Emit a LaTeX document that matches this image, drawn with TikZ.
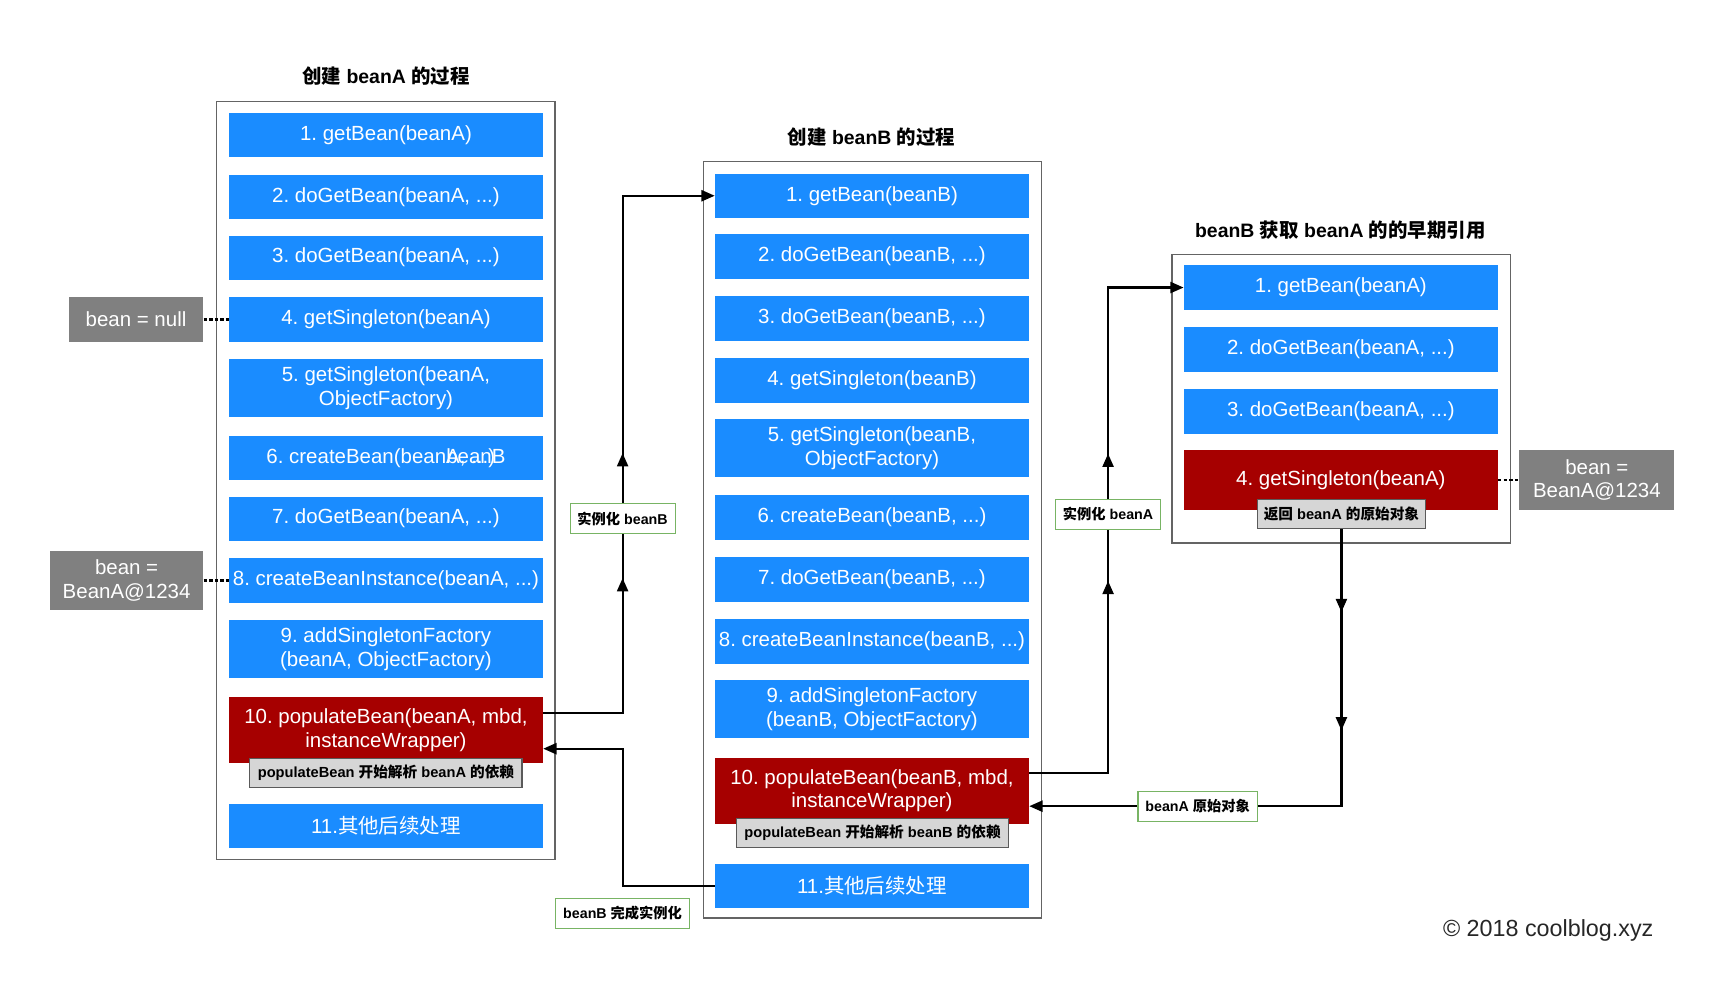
\documentclass[tikz,border=0pt]{standalone}
\usepackage{fontspec}
\setmainfont{Liberation Sans}
\newfontfamily\zhfont{Noto Sans CJK SC}
\newcommand{\zh}[1]{{\zhfont #1}}
\usetikzlibrary{arrows.meta,decorations.markings}
\frenchspacing

\definecolor{beanblue}{RGB}{26,140,255}
\definecolor{beanred}{RGB}{166,0,0}
\definecolor{valgray}{RGB}{128,128,128}
\definecolor{notegray}{RGB}{214,214,214}
\definecolor{noteedge}{RGB}{90,90,90}
\definecolor{taggreen}{RGB}{120,180,100}
\definecolor{framegray}{RGB}{100,100,100}

\begin{document}
\begin{tikzpicture}[x=0.3mm, y=-0.3mm,
  stepbox/.style={fill=beanblue, text=white, minimum width=85.2mm, minimum height=12mm, inner sep=0pt, align=center, font=\fontsize{15.8}{18.3}\selectfont},
  tallbox/.style={stepbox, minimum height=15.9mm},
  hotbox/.style={stepbox, fill=beanred, minimum height=18mm},
  valbox/.style={fill=valgray, text=white, inner sep=0pt, align=center, font=\fontsize{15.8}{18.3}\selectfont},
  notebox/.style={draw=noteedge, fill=notegray, line width=0.3mm, minimum width=73.8mm, minimum height=7.8mm, inner sep=0pt, font=\fontsize{11.3}{13}\selectfont\bfseries},
  tagbox/.style={draw=taggreen, fill=white, line width=0.3mm, minimum height=8.1mm, inner xsep=2mm, inner ysep=0pt, font=\fontsize{11}{13}\selectfont\bfseries},
  headline/.style={font=\fontsize{15}{18}\selectfont\bfseries},
  framebox/.style={draw=framegray, line width=0.4mm},
  flow/.style={line width=0.6mm, -{Triangle[length=3.6mm,width=3mm]}},
  tipat/.style={postaction={decorate, decoration={markings, mark=at position #1 with {\arrow{Triangle[length=3.6mm,width=3mm]}}}}},
  dotlink/.style={line width=0.6mm, dash pattern=on 0.9mm off 0.6mm},
]
\useasboundingbox (0,0) rectangle (1568,897);

% Creating beanA
\node[headline] (ta) at (349,69) {\zh{创建} beanA \zh{的过程}};
\draw[framebox] (196,92) rectangle (502,777);
\node[stepbox] (a1) at (349,122) {1. getBean(beanA)};
\node[stepbox] (a2) at (349,178) {2. doGetBean(beanA, ...)};
\node[stepbox] (a3) at (349,233) {3. doGetBean(beanA, ...)};
\node[stepbox] (a4) at (349,289) {4. getSingleton(beanA)};
\node[tallbox] (a5) at (349,351) {5. getSingleton(beanA,\\ObjectFactory)};
\node[stepbox] (a6) at (349,414) {6. createBean(bean\rlap{A, ...)}beanB};
\node[stepbox] (a7) at (349,469) {7. doGetBean(beanA, ...)};
\node[stepbox] (a8) at (349,525) {8. createBeanInstance(beanA, ...)};
\node[tallbox] (a9) at (349,587) {9. addSingletonFactory\\(beanA, ObjectFactory)};
\node[hotbox] (a10) at (349,660) {10. populateBean(beanA, mbd,\\instanceWrapper)};
\node[notebox] (na) at (349,699) {populateBean \zh{开始解析} beanA \zh{的依赖}};
\node[stepbox] (a11) at (349,747) {11.\zh{其他后续处理}};

% values seen by beanA
\node[valbox, minimum width=36.6mm, minimum height=12mm] (nulla) at (123,289) {bean = null};
\node[valbox, minimum width=41.7mm, minimum height=16.2mm] (vala) at (114.5,525) {bean =\\BeanA@1234};
\draw[dotlink] (nulla.east) -- (a4.west);
\draw[dotlink] (vala.east) -- (a8.west);

% Creating beanB
\node[headline] (tb) at (788,124) {\zh{创建} beanB \zh{的过程}};
\draw[framebox] (636,146) rectangle (942,830);
\node[stepbox] (b1) at (788.5,177) {1. getBean(beanB)};
\node[stepbox] (b2) at (788.5,232) {2. doGetBean(beanB, ...)};
\node[stepbox] (b3) at (788.5,288) {3. doGetBean(beanB, ...)};
\node[stepbox] (b4) at (788.5,344) {4. getSingleton(beanB)};
\node[tallbox] (b5) at (788.5,405) {5. getSingleton(beanB,\\ObjectFactory)};
\node[stepbox] (b6) at (788.5,468) {6. createBean(beanB, ...)};
\node[stepbox] (b7) at (788.5,524) {7. doGetBean(beanB, ...)};
\node[stepbox] (b8) at (788.5,580) {8. createBeanInstance(beanB, ...)};
\node[tallbox] (b9) at (788.5,641) {9. addSingletonFactory\\(beanB, ObjectFactory)};
\node[hotbox] (b10) at (788.5,715) {10. populateBean(beanB, mbd,\\instanceWrapper)};
\node[notebox] (nb) at (789,753) {populateBean \zh{开始解析} beanB \zh{的依赖}};
\node[stepbox] (b11) at (788.5,801) {11.\zh{其他后续处理}};

% beanB asks for beanA
\node[headline] (tc) at (1212,208) {beanB \zh{获取} beanA \zh{的的早期引用}};
\draw[framebox] (1060,230) rectangle (1366,491);
\node[stepbox] (c1) at (1212.5,260) {1. getBean(beanA)};
\node[stepbox] (c2) at (1212.5,316) {2. doGetBean(beanA, ...)};
\node[stepbox] (c3) at (1212.5,372) {3. doGetBean(beanA, ...)};
\node[hotbox, minimum height=16.2mm] (c4) at (1212.5,434) {4. getSingleton(beanA)};
\node[notebox, minimum width=45.6mm] (nc) at (1213,465) {\zh{返回} beanA \zh{的原始对象}};
\node[valbox, minimum width=42mm, minimum height=16.2mm] (valc) at (1444,434) {bean =\\BeanA@1234};
\draw[dotlink] (c4.east) -- (valc.west);

% connectors
\coordinate (ja) at (563,0);
\coordinate (jb) at (1002,0);
\coordinate (a10out) at ([yshift=4.5mm]a10.east);
\coordinate (a10in) at ([yshift=-5.1mm]a10.east);
\coordinate (b10out) at ([yshift=4.8mm]b10.east);
\coordinate (b10in) at ([yshift=-4.2mm]b10.east);

\draw[flow, tipat=58.2mm, tipat=92.1mm] (a10out) -| (ja |- b1.west) -- (b1.west);
\draw[flow] (b11.west) -| (ja |- a10in) -- (a10in);
\draw[flow, tipat=73.5mm, tipat=108mm] (b10out) -| (jb |- c1.west) -- (c1.west);
\draw[flow, tipat=22.5mm, tipat=54.6mm] (nc.south) |- (b10in);

\node[tagbox] (tagb) at (563,469) {\zh{实例化} beanB};
\node[tagbox] (tagdone) at (563,826) {beanB \zh{完成实例化}};
\node[tagbox] (taga) at (1002,465) {\zh{实例化} beanA};
\node[tagbox] (tagraw) at (1083,729) {beanA \zh{原始对象}};

\node[font=\fontsize{18}{20}\selectfont, text=black!85] (sign) at (1400,841) {© 2018 coolblog.xyz};
\end{tikzpicture}
\end{document}
